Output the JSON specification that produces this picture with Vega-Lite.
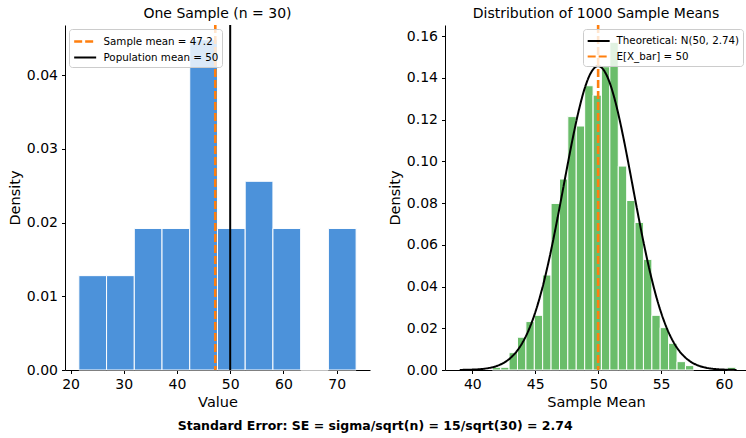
{
  "$schema": "https://vega.github.io/schema/vega-lite/v6.json",
  "background": "white",
  "padding": {"left": 7, "top": 7, "right": 0, "bottom": 2},
  "datasets": {
    "leftBars": [
      {"bin_start": 21.56, "bin_end": 26.77, "density": 0.0128},
      {"bin_start": 26.77, "bin_end": 31.98, "density": 0.0128},
      {"bin_start": 31.98, "bin_end": 37.19, "density": 0.0192},
      {"bin_start": 37.19, "bin_end": 42.40, "density": 0.0192},
      {"bin_start": 42.40, "bin_end": 47.61, "density": 0.0448},
      {"bin_start": 47.61, "bin_end": 52.82, "density": 0.0192},
      {"bin_start": 52.82, "bin_end": 58.03, "density": 0.0256},
      {"bin_start": 58.03, "bin_end": 63.24, "density": 0.0192},
      {"bin_start": 63.24, "bin_end": 68.45, "density": 0.0},
      {"bin_start": 68.45, "bin_end": 73.66, "density": 0.0192}
    ],
    "leftLines": [
      {"label": "Sample mean = 47.2", "value": 47.2},
      {"label": "Population mean = 50", "value": 50}
    ],
    "rightBars": [
      {"bin_start": 41.59, "bin_end": 42.26, "density": 0.0013},
      {"bin_start": 42.26, "bin_end": 42.92, "density": 0.0013},
      {"bin_start": 42.92, "bin_end": 43.59, "density": 0.0083},
      {"bin_start": 43.59, "bin_end": 44.26, "density": 0.0157},
      {"bin_start": 44.26, "bin_end": 44.93, "density": 0.0232},
      {"bin_start": 44.93, "bin_end": 45.59, "density": 0.0262},
      {"bin_start": 45.59, "bin_end": 46.26, "density": 0.0455},
      {"bin_start": 46.26, "bin_end": 46.93, "density": 0.0798},
      {"bin_start": 46.93, "bin_end": 47.59, "density": 0.0915},
      {"bin_start": 47.59, "bin_end": 48.26, "density": 0.1214},
      {"bin_start": 48.26, "bin_end": 48.93, "density": 0.1169},
      {"bin_start": 48.93, "bin_end": 49.60, "density": 0.1362},
      {"bin_start": 49.60, "bin_end": 50.26, "density": 0.1317},
      {"bin_start": 50.26, "bin_end": 50.93, "density": 0.1453},
      {"bin_start": 50.93, "bin_end": 51.60, "density": 0.1570},
      {"bin_start": 51.60, "bin_end": 52.27, "density": 0.0977},
      {"bin_start": 52.27, "bin_end": 52.93, "density": 0.0812},
      {"bin_start": 52.93, "bin_end": 53.60, "density": 0.0707},
      {"bin_start": 53.60, "bin_end": 54.27, "density": 0.0530},
      {"bin_start": 54.27, "bin_end": 54.93, "density": 0.0262},
      {"bin_start": 54.93, "bin_end": 55.60, "density": 0.0203},
      {"bin_start": 55.60, "bin_end": 56.27, "density": 0.0128},
      {"bin_start": 56.27, "bin_end": 56.94, "density": 0.0040},
      {"bin_start": 56.94, "bin_end": 57.60, "density": 0.0021},
      {"bin_start": 60.27, "bin_end": 60.94, "density": 0.0013}
    ],
    "rightCurve": [
      {"series": "Theoretical: N(50, 2.74)", "x": 39.0, "pdf": 0.000046},
      {"series": "Theoretical: N(50, 2.74)", "x": 39.5, "pdf": 0.0000943},
      {"series": "Theoretical: N(50, 2.74)", "x": 40.0, "pdf": 0.000187},
      {"series": "Theoretical: N(50, 2.74)", "x": 40.5, "pdf": 0.000357},
      {"series": "Theoretical: N(50, 2.74)", "x": 41.0, "pdf": 0.000661},
      {"series": "Theoretical: N(50, 2.74)", "x": 41.5, "pdf": 0.00118},
      {"series": "Theoretical: N(50, 2.74)", "x": 42.0, "pdf": 0.00205},
      {"series": "Theoretical: N(50, 2.74)", "x": 42.5, "pdf": 0.00344},
      {"series": "Theoretical: N(50, 2.74)", "x": 43.0, "pdf": 0.00557},
      {"series": "Theoretical: N(50, 2.74)", "x": 43.5, "pdf": 0.00873},
      {"series": "Theoretical: N(50, 2.74)", "x": 44.0, "pdf": 0.01324},
      {"series": "Theoretical: N(50, 2.74)", "x": 44.5, "pdf": 0.01942},
      {"series": "Theoretical: N(50, 2.74)", "x": 45.0, "pdf": 0.02755},
      {"series": "Theoretical: N(50, 2.74)", "x": 45.5, "pdf": 0.03780},
      {"series": "Theoretical: N(50, 2.74)", "x": 46.0, "pdf": 0.05016},
      {"series": "Theoretical: N(50, 2.74)", "x": 46.5, "pdf": 0.06439},
      {"series": "Theoretical: N(50, 2.74)", "x": 47.0, "pdf": 0.07995},
      {"series": "Theoretical: N(50, 2.74)", "x": 47.5, "pdf": 0.09602},
      {"series": "Theoretical: N(50, 2.74)", "x": 48.0, "pdf": 0.11155},
      {"series": "Theoretical: N(50, 2.74)", "x": 48.5, "pdf": 0.12534},
      {"series": "Theoretical: N(50, 2.74)", "x": 49.0, "pdf": 0.13622},
      {"series": "Theoretical: N(50, 2.74)", "x": 49.5, "pdf": 0.14320},
      {"series": "Theoretical: N(50, 2.74)", "x": 50.0, "pdf": 0.14560},
      {"series": "Theoretical: N(50, 2.74)", "x": 50.5, "pdf": 0.14320},
      {"series": "Theoretical: N(50, 2.74)", "x": 51.0, "pdf": 0.13622},
      {"series": "Theoretical: N(50, 2.74)", "x": 51.5, "pdf": 0.12534},
      {"series": "Theoretical: N(50, 2.74)", "x": 52.0, "pdf": 0.11155},
      {"series": "Theoretical: N(50, 2.74)", "x": 52.5, "pdf": 0.09602},
      {"series": "Theoretical: N(50, 2.74)", "x": 53.0, "pdf": 0.07995},
      {"series": "Theoretical: N(50, 2.74)", "x": 53.5, "pdf": 0.06439},
      {"series": "Theoretical: N(50, 2.74)", "x": 54.0, "pdf": 0.05016},
      {"series": "Theoretical: N(50, 2.74)", "x": 54.5, "pdf": 0.03780},
      {"series": "Theoretical: N(50, 2.74)", "x": 55.0, "pdf": 0.02755},
      {"series": "Theoretical: N(50, 2.74)", "x": 55.5, "pdf": 0.01942},
      {"series": "Theoretical: N(50, 2.74)", "x": 56.0, "pdf": 0.01324},
      {"series": "Theoretical: N(50, 2.74)", "x": 56.5, "pdf": 0.00873},
      {"series": "Theoretical: N(50, 2.74)", "x": 57.0, "pdf": 0.00557},
      {"series": "Theoretical: N(50, 2.74)", "x": 57.5, "pdf": 0.00344},
      {"series": "Theoretical: N(50, 2.74)", "x": 58.0, "pdf": 0.00205},
      {"series": "Theoretical: N(50, 2.74)", "x": 58.5, "pdf": 0.00118},
      {"series": "Theoretical: N(50, 2.74)", "x": 59.0, "pdf": 0.000661},
      {"series": "Theoretical: N(50, 2.74)", "x": 59.5, "pdf": 0.000357},
      {"series": "Theoretical: N(50, 2.74)", "x": 60.0, "pdf": 0.000187},
      {"series": "Theoretical: N(50, 2.74)", "x": 60.5, "pdf": 0.0000943},
      {"series": "Theoretical: N(50, 2.74)", "x": 61.0, "pdf": 0.000046}
    ],
    "rightLines": [
      {"series": "E[X_bar] = 50", "x": 50}
    ]
  },
  "config": {
    "font": "DejaVu Sans",
    "view": {"stroke": null},
    "axis": {
      "grid": false,
      "domainColor": "black",
      "domainWidth": 1,
      "tickColor": "black",
      "tickSize": 3.5,
      "tickWidth": 1,
      "labelColor": "black",
      "labelFontSize": 14,
      "labelFont": "DejaVu Sans",
      "labelPadding": 4,
      "labelFlush": false,
      "titleFont": "DejaVu Sans",
      "titleFontSize": 14.5,
      "titleFontWeight": "normal",
      "titleColor": "black",
      "titlePadding": 4
    },
    "title": {"font": "DejaVu Sans", "fontSize": 14, "fontWeight": "normal", "color": "black"},
    "legend": {
      "title": null,
      "symbolType": "M-1,0H2",
      "symbolSize": 215,
      "symbolStrokeWidth": 2.2,
      "symbolFillColor": "transparent",
      "labelFont": "DejaVu Sans",
      "labelFontSize": 10.3,
      "labelColor": "black",
      "labelOffset": 13,
      "rowPadding": 1.5,
      "padding": 3.5,
      "offset": 4,
      "fillColor": "rgba(255,255,255,0.8)",
      "strokeColor": "#cccccc",
      "cornerRadius": 3
    }
  },
  "title": {
    "text": "Standard Error: SE = sigma/sqrt(n) = 15/sqrt(30) = 2.74",
    "orient": "bottom",
    "anchor": "middle",
    "fontWeight": "bold",
    "fontSize": 12.5,
    "offset": 11,
    "dx": -2
  },
  "spacing": 17,
  "resolve": {
    "scale": {"x": "independent", "y": "independent", "color": "independent", "strokeDash": "independent", "strokeWidth": "independent"},
    "legend": {"color": "independent", "strokeDash": "independent"}
  },
  "hconcat": [
    {
      "width": 305,
      "height": 345,
      "title": {"text": "One Sample (n = 30)", "anchor": "middle", "frame": "group", "baseline": "alphabetic", "offset": -8.5},
      "layer": [
        {
          "data": {"name": "leftBars"},
          "mark": {"type": "rect", "color": "#4c92da", "stroke": "white", "strokeWidth": 1},
          "encoding": {
            "x": {"field": "bin_start", "type": "quantitative", "scale": {"domain": [18.96, 76.27], "nice": false, "zero": false}, "axis": {"values": [20, 30, 40, 50, 60, 70], "title": "Value"}},
            "x2": {"field": "bin_end"},
            "y": {"field": "density", "type": "quantitative", "scale": {"domain": [0, 0.0468], "nice": false}, "axis": {"values": [0, 0.01, 0.02, 0.03, 0.04], "format": ".2f", "title": "Density"}},
            "y2": {"datum": 0}
          }
        },
        {
          "data": {"name": "leftLines"},
          "mark": {"type": "rule"},
          "encoding": {
            "x": {"field": "value", "type": "quantitative"},
            "color": {"field": "label", "type": "nominal", "scale": {"domain": ["Sample mean = 47.2", "Population mean = 50"], "range": ["#ff7f0e", "black"]}, "legend": {"orient": "top-left"}},
            "strokeDash": {"field": "label", "type": "nominal", "scale": {"domain": ["Sample mean = 47.2", "Population mean = 50"], "range": [[8, 3], [1, 0]]}, "legend": {"orient": "top-left"}},
            "strokeWidth": {"field": "label", "type": "nominal", "scale": {"domain": ["Sample mean = 47.2", "Population mean = 50"], "range": [2.6, 2]}, "legend": null}
          }
        }
      ]
    },
    {
      "width": 302,
      "height": 345,
      "title": {"text": "Distribution of 1000 Sample Means", "anchor": "middle", "frame": "group", "baseline": "alphabetic", "offset": -8.5},
      "layer": [
        {
          "data": {"name": "rightBars"},
          "mark": {"type": "rect", "color": "#6abd6a", "stroke": "white", "strokeWidth": 1},
          "encoding": {
            "x": {"field": "bin_start", "type": "quantitative", "scale": {"domain": [37.83, 61.83], "nice": false, "zero": false}, "axis": {"values": [40, 45, 50, 55, 60], "title": "Sample Mean"}},
            "x2": {"field": "bin_end"},
            "y": {"field": "density", "type": "quantitative", "scale": {"domain": [0, 0.1653], "nice": false}, "axis": {"values": [0, 0.02, 0.04, 0.06, 0.08, 0.10, 0.12, 0.14, 0.16], "format": ".2f", "title": "Density"}},
            "y2": {"datum": 0}
          }
        },
        {
          "data": {"name": "rightCurve"},
          "mark": {"type": "line", "strokeWidth": 2, "interpolate": "monotone"},
          "encoding": {
            "x": {"field": "x", "type": "quantitative"},
            "y": {"field": "pdf", "type": "quantitative"},
            "color": {"field": "series", "type": "nominal", "scale": {"domain": ["Theoretical: N(50, 2.74)", "E[X_bar] = 50"], "range": ["black", "#ff7f0e"]}, "legend": {"orient": "top-right"}},
            "strokeDash": {"field": "series", "type": "nominal", "scale": {"domain": ["Theoretical: N(50, 2.74)", "E[X_bar] = 50"], "range": [[1, 0], [8, 3]]}, "legend": {"orient": "top-right"}}
          }
        },
        {
          "data": {"name": "rightLines"},
          "mark": {"type": "rule", "strokeWidth": 2.6},
          "encoding": {
            "x": {"field": "x", "type": "quantitative"},
            "color": {"field": "series", "type": "nominal"},
            "strokeDash": {"field": "series", "type": "nominal"}
          }
        }
      ]
    }
  ]
}
